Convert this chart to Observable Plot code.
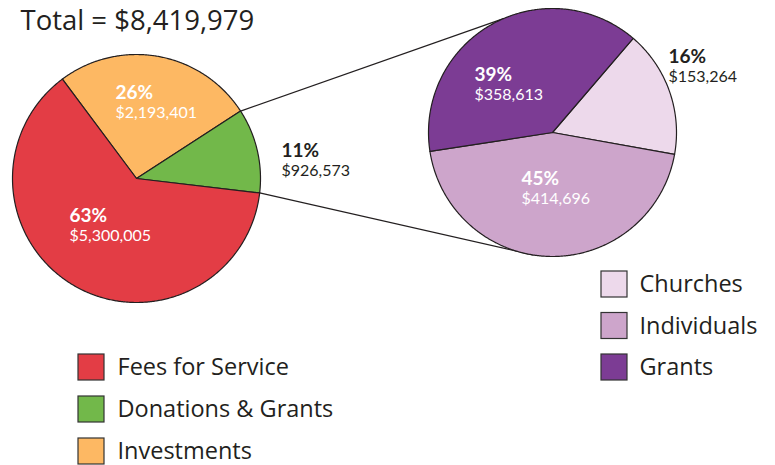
<!DOCTYPE html>
<html><head><meta charset="utf-8">
<script src="https://cdn.jsdelivr.net/npm/d3@7"></script>
<script src="https://cdn.jsdelivr.net/npm/@observablehq/plot@0.6"></script>
<style>body{margin:0;background:#fff} svg{display:block}</style>
</head><body><div id="chart"></div>
<script>
// ---- data ----
const title = "Total = $8,419,979";
const mainCategories = ["Investments", "Donations & Grants", "Fees for Service"];
const mainValues = [2193401, 926573, 5300005];
const mainPercents = ["26%", "11%", "63%"];
const mainAmounts = ["$2,193,401", "$926,573", "$5,300,005"];
const subCategories = ["Churches", "Individuals", "Grants"];
const subValues = [153264, 414696, 358613];
const subPercents = ["16%", "45%", "39%"];
const subAmounts = ["$153,264", "$414,696", "$358,613"];
const leftLegend = ["Fees for Service", "Donations & Grants", "Investments"];
const rightLegend = ["Churches", "Individuals", "Grants"];
const colorDomain = [...mainCategories, ...subCategories];
const colorRange = ["#fdb863", "#72b84a", "#e33d45", "#edd9eb", "#cda5cb", "#7c3c94"];

// ---- layout (positions / styles) ----
const W = 775, H = 465;
const INK = "#231f20";
const FONT = "'Open Sans', sans-serif";
const LABEL_FONT = "Lato, 'Open Sans', sans-serif";
const layout = {
  left: {cx: 136, cy: 178, r: 124, start: -36.7,
         labels: [[-21, -80, "#fff"], [145, -22, INK], [-67, 43, "#fff"]]},
  right: {cx: 552, cy: 132, r: 124, start: 40.6,
         labels: [[116, -70, INK], [-31, 52, "#fff"], [-78, -52, "#fff"]]},
  connectorEnds: [-23.3, 188.7],
  amountDy: 19,
  leftLegend: {x: 78, y: 354, step: 42, size: 26, textDx: 39},
  rightLegend: {x: 601, y: 271, step: 41.5, size: 26, textDx: 38},
  title: {x: 20, y: 29.5}
};
const rad = d => d * Math.PI / 180;

function pieArcs(vals, cfg) {
  const s = rad(cfg.start);
  return d3.pie().sort(null).value(d => d).startAngle(s).endAngle(s + 2 * Math.PI)(vals);
}
function polarPt(cfg, a) { return [cfg.cx + cfg.r * Math.sin(a), cfg.cy - cfg.r * Math.cos(a)]; }

function slicePoints(cats, vals, cfg) {
  const pts = [];
  pieArcs(vals, cfg).forEach((a, i) => {
    pts.push({x: cfg.cx, y: cfg.cy, cat: cats[i]});
    const n = Math.max(2, Math.ceil((a.endAngle - a.startAngle) / rad(0.5)));
    for (let k = 0; k <= n; k++) {
      const [x, y] = polarPt(cfg, a.startAngle + (a.endAngle - a.startAngle) * k / n);
      pts.push({x, y, cat: cats[i]});
    }
  });
  return pts;
}
function labelData(percents, amounts, cfg) {
  return percents.map((p, i) => ({
    x: cfg.cx + cfg.labels[i][0], y: cfg.cy + cfg.labels[i][1],
    color: cfg.labels[i][2], pct: p, amt: amounts[i]
  }));
}

const leftPts = slicePoints(mainCategories, mainValues, layout.left);
const rightPts = slicePoints(subCategories, subValues, layout.right);

// connectors from the Donations & Grants slice edges to the sub pie
const greenArc = pieArcs(mainValues, layout.left)[1];
const connectors = [greenArc.startAngle, greenArc.endAngle].map((a, i) => {
  const [x1, y1] = polarPt(layout.left, a);
  const [x2, y2] = polarPt(layout.right, rad(layout.connectorEnds[i]));
  return {x1, y1, x2, y2};
});

const leftLabels = labelData(mainPercents, mainAmounts, layout.left);
const rightLabels = labelData(subPercents, subAmounts, layout.right);
const allLabels = [...leftLabels, ...rightLabels];

function legendData(cats, cfg) {
  return cats.map((c, i) => ({cat: c, x1: cfg.x, x2: cfg.x + cfg.size,
    y1: cfg.y + i * cfg.step, y2: cfg.y + i * cfg.step + cfg.size,
    tx: cfg.x + cfg.textDx, ty: cfg.y + i * cfg.step + cfg.size * 0.5}));
}
const legends = [...legendData(leftLegend, layout.leftLegend), ...legendData(rightLegend, layout.rightLegend)];

const chart = Plot.plot({
  width: W, height: H,
  margin: 0,
  x: {domain: [0, W], range: [0, W], axis: null},
  y: {domain: [0, H], range: [0, H], axis: null},
  color: {domain: colorDomain, range: colorRange},
  style: {fontFamily: FONT, background: "#fff"},
  marks: [
    Plot.link(connectors, {x1: "x1", y1: "y1", x2: "x2", y2: "y2", stroke: INK, strokeWidth: 1.2}),
    Plot.line(leftPts, {x: "x", y: "y", z: "cat", fill: "cat", stroke: INK, strokeWidth: 1.2, curve: "linear-closed", strokeLinejoin: "round"}),
    Plot.line(rightPts, {x: "x", y: "y", z: "cat", fill: "cat", stroke: INK, strokeWidth: 1.2, curve: "linear-closed", strokeLinejoin: "round"}),
    Plot.text(allLabels, {x: "x", y: "y", text: "pct", fill: "color", fontFamily: LABEL_FONT, fontWeight: "bold", fontSize: 19, textAnchor: "start", lineAnchor: "bottom"}),
    Plot.text(allLabels, {x: "x", y: d => d.y + layout.amountDy, text: "amt", fill: "color", fontFamily: LABEL_FONT, fontSize: 16, textAnchor: "start", lineAnchor: "bottom"}),
    Plot.rect(legends, {x1: "x1", x2: "x2", y1: "y1", y2: "y2", fill: "cat", stroke: "#333", strokeWidth: 1.2}),
    Plot.text(legends, {x: "tx", y: "ty", text: "cat", fill: INK, fontSize: 23.5, textAnchor: "start", lineAnchor: "middle"}),
    Plot.text([title], {x: () => layout.title.x, y: () => layout.title.y, text: d => d, fill: INK, fontSize: 27.5, textAnchor: "start", lineAnchor: "bottom"})
  ]
});
document.getElementById("chart").append(chart);
</script>
</body></html>
